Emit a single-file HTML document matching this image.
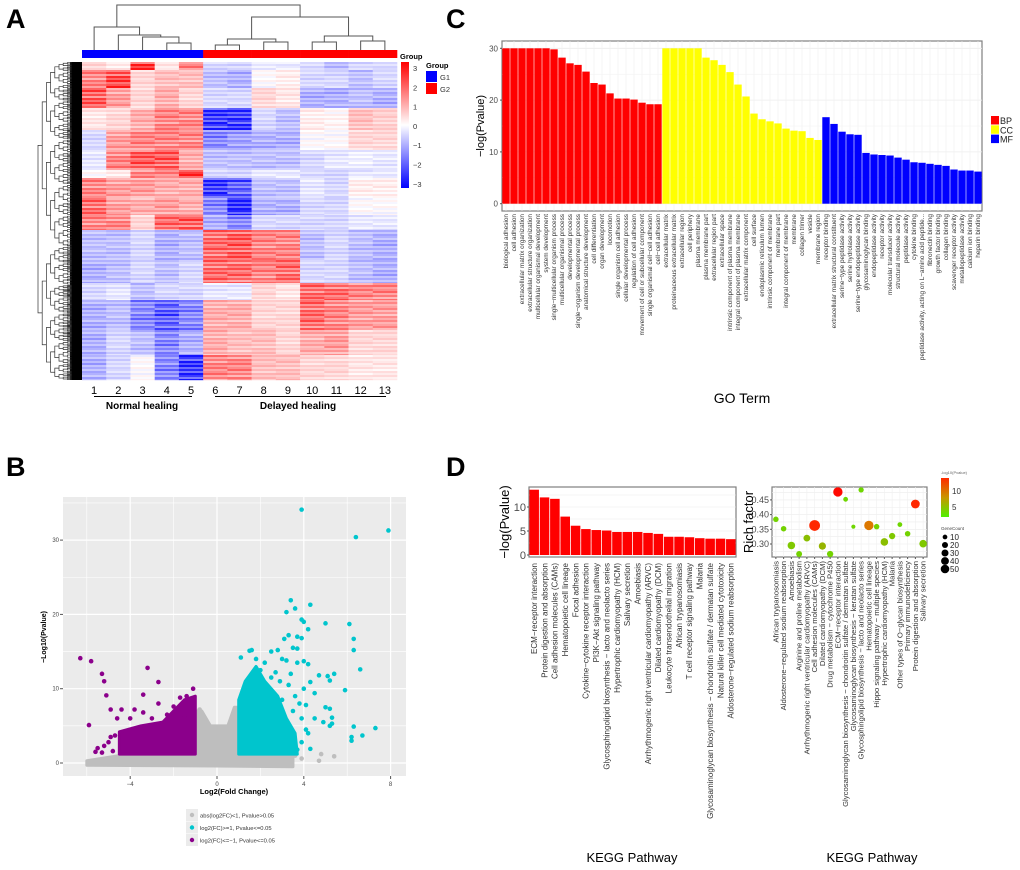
<!DOCTYPE html>
<html><head><meta charset="utf-8"><style>
body{margin:0;background:#fff}
svg{display:block;font-family:"Liberation Sans",sans-serif}
</style></head><body>
<svg id="fig" width="1020" height="870" viewBox="0 0 1020 870">
<g id="pa"></g>
<g id="pb"></g>
<g id="pc"></g>
<g id="pd1"></g>
<g id="pd2"></g>
<text x="6" y="28" font-size="27" font-weight="bold">A</text>
<text x="446" y="28" font-size="27" font-weight="bold">C</text>
<text x="6" y="476" font-size="27" font-weight="bold">B</text>
<text x="446" y="476" font-size="27" font-weight="bold">D</text>
</svg>
<script>
const NS='http://www.w3.org/2000/svg';
function mk(p,t,a,txt){const e=document.createElementNS(NS,t);for(const k in a)e.setAttribute(k,a[k]);if(txt!==undefined)e.textContent=txt;p.appendChild(e);return e;}

// ===== Panel A data =====
const heatBlockEdges=[62,70,88,108,130,150,170,178,198,215,230,260,283,300,330,355,380];
const heatValues=[
[0.5,0.3,2.5,0.3,1.5,-0.5,-0.5,-0.3,-0.3,-0.5,-0.8,-0.5,-0.5],
[1.5,2.2,0.5,0.8,0.8,-0.8,-1,0,0.2,-0.5,-0.5,-0.8,-0.5],
[2,1.2,0.5,1,0.5,-0.5,-0.5,0.5,0.3,-1,-1,-0.8,-1],
[0.3,0.5,1,1.5,1.5,-2.5,-2.5,-0.5,-0.8,0.2,0.1,0.8,0.6],
[-0.5,1.2,1.5,1.5,1.5,-1.5,-1.2,-1,-1,0,0,0.5,0.5],
[-0.3,1.5,2,2,1,-0.8,-0.8,-0.8,-0.8,-0.5,-0.3,-0.2,-0.3],
[0,0.3,1.5,1.5,2.5,-0.5,-0.5,-0.3,-0.3,-0.5,-0.5,-0.3,-0.3],
[1.5,1.2,1.2,1,1,-2.5,-2,-0.8,-0.8,-0.3,-0.5,0.2,0.2],
[1.8,1.2,1,1.2,1,-1.5,-2.8,-1,-1,-0.5,-0.5,0,0],
[1.5,1.5,0.5,1.8,2,-1,-1.5,-0.5,-0.5,-0.5,-0.5,-0.3,-0.3],
[-0.8,-0.8,-0.5,-1,-0.8,1.8,2,1.5,1.5,-0.8,-0.5,-0.8,-1],
[-1,-0.8,-0.5,-0.8,-0.5,1.8,1.8,1.5,1.8,-0.5,-0.5,-0.8,-1],
[-0.5,-0.3,-0.8,-0.5,-0.5,-0.3,-0.3,0.5,0.3,1.8,1.8,1.5,1.5],
[-1,-0.8,-1.5,-2,-1.5,1,1,0.5,0.5,1.8,1.5,1.2,1.2],
[-1,-0.5,-0.8,-1.5,-1,1,0.8,0.8,0.5,1,1.2,0.5,0.5],
[-1,-0.5,0,-1.5,-2.5,1.5,1.5,0.8,0.8,0.5,0.5,0.3,0.3]];
const stripePattern=[0,0.35,-0.25,0.15,-0.4,0.25,-0.1,0.3,-0.2];
const sampleLabels=['1','2','3','4','5','6','7','8','9','10','11','12','13'];
const sampleGroups=[1,1,1,1,1,2,2,2,2,2,2,2,2];

(function(){
const g=document.getElementById('pa');
const X0=82,X1=397,cw=(X1-X0)/13;
const cx=i=>X0+cw*(i+0.5);
function hcol(v){v=Math.max(-3,Math.min(3,v));const t=Math.abs(v)/3;const a=Math.round(255*(1-t*0.92));return v>=0?`rgb(255,${a},${a})`:`rgb(${a},${a},255)`;}
for(let b=0;b<heatValues.length;b++){
 const y0=heatBlockEdges[b],y1=heatBlockEdges[b+1];
 let k=0;
 for(let y=y0;y<y1;y+=2,k++){
  for(let c=0;c<13;c++){
   const v=heatValues[b][c]+stripePattern[(k+c*2)%stripePattern.length]*Math.max(0.6,Math.abs(heatValues[b][c]));
   const r=mk(g,'rect',{x:X0+cw*c,y:y,width:cw+0.3,height:Math.min(2,y1-y)+0.2,fill:hcol(v)});
   
   
  }
 }
}
for(let c=0;c<13;c++){
 const r=mk(g,'rect',{x:X0+cw*c,y:50,width:cw+0.3,height:8,fill:sampleGroups[c]==1?'#0000ff':'#ff0000'});
 
 
}
const tree=[5,[27,0,[35,1,[37,2,[43,3,4]]]],[17,[39,[45,5,6],[42,7,8]],[36,[42,9,10],[41,11,12]]]];
function dn(n){ if(typeof n==='number') return {x:cx(n),h:50};
 const a=dn(n[1]),b=dn(n[2]);
 mk(g,'path',{d:`M${a.x},${a.h}V${n[0]}H${b.x}V${b.h}`,stroke:'#555',fill:'none','stroke-width':1});
 return {x:(a.x+b.x)/2,h:n[0]};}
dn(tree);
mk(g,'rect',{x:70,y:62,width:12,height:318,fill:'#000',});
function rd(y0,y1,d){ if(d>7) return (y0+y1)/2;
 const m=y0+(y1-y0)*(0.42+0.16*((d*7+Math.round(y0))%3)/2);
 const a=rd(y0,m,d+1),b=rd(m,y1,d+1);const x=38+d*4.2;
 mk(g,'path',{d:`M${x+4.2},${a}H${x}V${b}H${x+4.2}`,stroke:'#333',fill:'none','stroke-width':0.7});
 return (a+b)/2;}
rd(62,380,0);
sampleLabels.forEach((s,i)=>{const t=mk(g,'text',{x:cx(i),y:394,'font-size':11,'text-anchor':'middle'},s);});
mk(g,'line',{x1:94,x2:192,y1:396.5,y2:396.5,stroke:'#000'});
mk(g,'line',{x1:215,x2:386,y1:396.5,y2:396.5,stroke:'#000'});
mk(g,'text',{x:142,y:409,'font-size':10,'font-weight':'bold','text-anchor':'middle',},'Normal healing');
mk(g,'text',{x:298,y:409,'font-size':10,'font-weight':'bold','text-anchor':'middle',},'Delayed healing');
const gr=mk(g,'linearGradient',{id:'hg',x1:0,y1:0,x2:0,y2:1});
mk(gr,'stop',{offset:'0','stop-color':'#ff0000'});mk(gr,'stop',{offset:'0.5','stop-color':'#ffffff'});mk(gr,'stop',{offset:'1','stop-color':'#0000ff'});
mk(g,'rect',{x:401,y:62,width:8,height:126,fill:'url(#hg)',});
[3,2,1,0,-1,-2,-3].forEach((v,i)=>mk(g,'text',{x:413,y:71+i*19.3,'font-size':7.5,fill:'#333'},v<0?'−'+(-v):String(v)));
mk(g,'text',{x:400,y:59,'font-size':7.5,'font-weight':'bold'},'Group');
mk(g,'text',{x:426,y:68,'font-size':7.5,'font-weight':'bold'},'Group');
mk(g,'rect',{x:426,y:71,width:11,height:11,fill:'#0000ff',});
mk(g,'rect',{x:426,y:83,width:11,height:11,fill:'#ff0000',});
mk(g,'text',{x:440,y:80,'font-size':7.5,fill:'#333'},'G1');
mk(g,'text',{x:440,y:92,'font-size':7.5,fill:'#333'},'G2');
})();

// ===== Panel B data =====
const volcXTicks=[-4,0,4,8];
const volcYTicks=[0,10,20,30];
const grayHull=[[-6,-0.3],[-6,0.3],[-4.5,1],[-1,1.5],[-1,7],[-0.7,7],[-0.3,5],[0.1,5],[0.5,5],[0.8,7.5],[1,7.5],[1,1.5],[3.5,1],[3.5,-0.5],[0,-0.4]];
const grayPts=[[4.7,0.3],[4.8,1.2],[5.4,0.9],[3.9,0.6],[3.6,1],[3.2,0.9],[-0.4,4.5],[0.1,2.6],[-0.8,7.2],[-5.8,0.1]];
const purpleHull=[[-4.5,1.2],[-4.5,4.2],[-3.5,5],[-2.5,5.5],[-1.5,8.5],[-1,9],[-1,1.2]];
const purplePts=[[-6.3,14.1],[-5.8,13.7],[-5.3,12],[-5.2,11],[-5.1,9.1],[-4.9,7.2],[-4.4,7.2],[-4.6,6],[-5.9,5.1],[-5.6,1.5],[-5.2,2.3],[-4.9,3.5],[-3.2,12.8],[-2.7,10.9],[-3.4,9.2],[-3.8,7.2],[-3.4,6.8],[-2.7,8],[-2,7.6],[-1.7,8.8],[-1.4,9],[-1.1,10],[-1.2,7.5],[-3,6],[-4,6],[-2.3,6.5],[-5.5,2],[-5,2.8],[-4.7,3.7],[-1.5,6.2],[-4.8,1.6],[-5.3,1.4]];
const cyanHull=[[1,1.2],[1,8.5],[1.3,11],[1.8,13],[2.2,11],[2.8,9],[3.2,6],[3.6,4],[3.7,1.2]];
const cyanPts=[[3.9,34.1],[6.4,30.4],[7.9,31.3],[3.4,21.9],[4.3,21.3],[3.6,20.8],[3.2,20.3],[3.9,19.3],[4.0,19],[5,18.8],[6.1,18.7],[4.2,18],[3.3,17.2],[3.1,16.7],[3.9,16.8],[3.7,17],[6.3,16.7],[6.3,15.2],[1.1,14.2],[1.5,15.1],[1.6,15.2],[2.5,15],[2.8,15.2],[3.5,15.5],[3.7,15.4],[3,14],[3.2,13.8],[3.7,13.5],[4,13.7],[4.2,13.3],[6.6,12.6],[5.4,12],[5.1,11.7],[4.7,11.8],[5.2,11.1],[4.3,10.9],[5.9,9.8],[4,10],[4.5,9.4],[5,7.5],[5.2,7.3],[5.3,6.1],[4.5,6],[4.9,5.5],[5.3,5.3],[5.2,5],[6.3,4.9],[7.3,4.7],[6.2,3.5],[6.2,3],[6.7,3.7],[4.3,1.9],[3.7,1.8],[3.9,2.8],[4.2,4],[4.1,4.5],[3.5,7],[3.8,8],[3.9,6],[4.1,7.8],[2.5,11.5],[2,12.5],[2.9,11],[3.6,9],[3.3,10.5],[3,8.5],[2.2,13.5],[1.8,14],[2.7,12.2],[3.4,12]];

(function(){
const g=document.getElementById('pb');
const OY=460;
const L=63,R=406,T=37+OY,B=316+OY;
const xs=v=>217+v*21.7, ys=v=>303+OY-v*7.43;
mk(g,'rect',{x:L,y:T,width:R-L,height:B-T,fill:'#ebebeb',});
for(let v=-6;v<=8;v+=2){mk(g,'line',{x1:xs(v),x2:xs(v),y1:T,y2:B,stroke:'#fff','stroke-width':v%4==0?1.2:0.6});}
for(let v=-5;v<=35;v+=5){mk(g,'line',{y1:ys(v),y2:ys(v),x1:L,x2:R,stroke:'#fff','stroke-width':v%10==0?1.2:0.6});}
volcXTicks.forEach(v=>{mk(g,'line',{x1:xs(v),x2:xs(v),y1:B,y2:B+3,stroke:'#555'});const t=mk(g,'text',{x:xs(v),y:B+10,'font-size':6,'text-anchor':'middle',fill:'#444'},v<0?'−'+(-v):String(v));});
volcYTicks.forEach(v=>{mk(g,'line',{x1:L-3,x2:L,y1:ys(v),y2:ys(v),stroke:'#555'});const t=mk(g,'text',{x:L-4,y:ys(v)+2,'font-size':6,'text-anchor':'end',fill:'#444'},String(v));});
function hull(h,c,n){const p=mk(g,'path',{d:'M'+h.map(q=>xs(q[0])+','+ys(q[1])).join('L')+'Z',fill:c,stroke:c,'stroke-width':3,'stroke-linejoin':'round'});}
function pts(a,c,n){a.forEach(q=>{const e=mk(g,'circle',{cx:xs(q[0]),cy:ys(q[1]),r:2.3,fill:c});});}
hull(grayHull,'#bebebe','gray-point-cloud');pts(grayPts,'#bebebe','gray-point');
hull(purpleHull,'#8b008b','purple-point-cloud');pts(purplePts,'#8b008b','purple-point');
hull(cyanHull,'#00c5cd','cyan-point-cloud');pts(cyanPts,'#00c5cd','cyan-point');
mk(g,'text',{x:234,y:334+OY,'font-size':7.5,'font-weight':'bold','text-anchor':'middle',},'Log2(Fold Change)');
mk(g,'text',{x:0,y:0,'font-size':7,'font-weight':'bold','text-anchor':'middle',transform:`translate(46,${177+OY}) rotate(-90)`,},'−Log10(Pvalue)');
const lg=[['#bebebe','abs(log2FC)<1, Pvalue>0.05'],['#00c5cd','log2(FC)>=1, Pvalue<=0.05'],['#8b008b','log2(FC)<=−1, Pvalue<=0.05']];
lg.forEach((e,i)=>{mk(g,'rect',{x:186,y:349+OY+i*12.5,width:12,height:12,fill:'#ebebeb'});const c=mk(g,'circle',{cx:192,cy:355+OY+i*12.5,r:2.2,fill:e[0]});mk(g,'text',{x:200,y:357.5+OY+i*12.5,'font-size':5.8,fill:'#333'},e[1]);});
})();

// ===== Panel C data =====
const goTerms=['biological adhesion','cell adhesion','extracellular matrix organization','extracellular structure organization','multicellular organismal development','system development','single−multicellular organism process','multicellular organismal process','developmental process','single−organism developmental process','anatomical structure development','cell differentiation','organ development','locomotion','single organism cell adhesion','cellular developmental process','regulation of cell adhesion','movement of cell or subcellular component','single organismal cell−cell adhesion','cell−cell adhesion',
'extracellular matrix','proteinaceous extracellular matrix','extracellular region','cell periphery','plasma membrane','plasma membrane part','extracellular region part','extracellular space','intrinsic component of plasma membrane','integral component of plasma membrane','extracellular matrix component','cell surface','endoplasmic reticulum lumen','intrinsic component of membrane','membrane part','integral component of membrane','membrane','collagen trimer','vesicle','membrane region',
'receptor binding','extracellular matrix structural constituent','serine−type peptidase activity','serine hydrolase activity','serine−type endopeptidase activity','glycosaminoglycan binding','endopeptidase activity','receptor activity','molecular transducer activity','structural molecule activity','peptidase activity','cytokine binding','peptidase activity, acting on L−amino acid peptide...','fibronectin binding','growth factor binding','collagen binding','scavenger receptor activity','metallopeptidase activity','calcium ion binding','heparin binding'];
const goValues=[30,30,30,30,30,30,29.8,28.2,27.1,26.8,25.5,23.3,23.0,21.3,20.3,20.3,20.1,19.5,19.2,19.2,
30,30,30,30,30,28.2,27.7,26.8,25.4,23.0,20.7,17.4,16.3,15.9,15.5,14.5,14.1,14.0,12.7,12.3,
16.7,15.4,13.9,13.4,13.3,9.8,9.5,9.4,9.3,8.9,8.5,8.0,7.9,7.7,7.5,7.3,6.6,6.4,6.4,6.2];
const goCategory=[].concat(Array(20).fill('BP'),Array(20).fill('CC'),Array(20).fill('MF'));
const goYTicks=[0,10,20,30];
(function(){
const g=document.getElementById('pc');
const L=502,R=982,T=41,B=211;const bw=(R-L)/goValues.length;
const ys=v=>203.7-v*5.18;const col={BP:'#ff0000',CC:'#ffff00',MF:'#0000ff'};
mk(g,'rect',{x:L,y:T,width:R-L,height:B-T,fill:'#fff',stroke:'#7f7f7f','stroke-width':1.2,});
for(let v=0;v<=30;v+=5)mk(g,'line',{x1:L,x2:R,y1:ys(v),y2:ys(v),stroke:'#ececec','stroke-width':v%10?0.4:0.8});
goValues.forEach((v,i)=>{const x=L+bw*i;mk(g,'line',{x1:x+bw/2,x2:x+bw/2,y1:T,y2:B,stroke:'#f0f0f0','stroke-width':0.6});});
goValues.forEach((v,i)=>{const x=L+bw*i;
 const r=mk(g,'rect',{x:x+0.3,y:ys(v),width:bw-0.6,height:ys(0)-ys(v),fill:col[goCategory[i]]});
 
 const t=mk(g,'text',{x:x+bw/2+2.2,y:214,'font-size':6.4,'text-anchor':'end',fill:'#333',transform:`rotate(-90 ${x+bw/2+2.2} 214)`},goTerms[i]);
 });
goYTicks.forEach(v=>{mk(g,'line',{x1:L-2,x2:L,y1:ys(v),y2:ys(v),stroke:'#555'});const t=mk(g,'text',{x:L-4,y:ys(v)+3,'font-size':8,'text-anchor':'end',fill:'#4d4d4d'},String(v));});
mk(g,'text',{x:0,y:0,'font-size':11,'text-anchor':'middle',transform:'translate(484,126) rotate(-90)',},'−log(Pvalue)');
mk(g,'text',{x:742,y:403,'font-size':14,'text-anchor':'middle',},'GO Term');
['BP','CC','MF'].forEach((k,i)=>{mk(g,'rect',{x:991,y:116+i*9.3,width:8,height:8.5,fill:col[k],});mk(g,'text',{x:1000,y:124+i*9.3,'font-size':9,fill:'#222'},k);});
})();

// ===== Panel D bar data =====
const keggBarNames=['ECM−receptor interaction','Protein digestion and absorption','Cell adhesion molecules (CAMs)','Hematopoietic cell lineage','Focal adhesion','Cytokine−cytokine receptor interaction','PI3K−Akt signaling pathway','Glycosphingolipid biosynthesis − lacto and neolacto series','Hypertrophic cardiomyopathy (HCM)','Salivary secretion','Amoebiasis','Arrhythmogenic right ventricular cardiomyopathy (ARVC)','Dilated cardiomyopathy (DCM)','Leukocyte transendothelial migration','African trypanosomiasis','T cell receptor signaling pathway','Malaria','Glycosaminoglycan biosynthesis − chondroitin sulfate / dermatan sulfate','Natural killer cell mediated cytotoxicity','Aldosterone−regulated sodium reabsorption'];
const keggBarValues=[13.6,12.0,11.7,8.0,6.1,5.4,5.2,5.1,4.8,4.8,4.8,4.6,4.4,3.8,3.8,3.7,3.5,3.4,3.4,3.3];
const keggBarTicks=[0,5,10];
(function(){
const g=document.getElementById('pd1');
const L=529,R=736,T=487,B=557;const bw=(R-L)/keggBarValues.length;const ys=v=>555-v*4.8;
mk(g,'rect',{x:L,y:T,width:R-L,height:B-T,fill:'#fff',stroke:'#7f7f7f','stroke-width':1.2,});
for(let v=0;v<=12.5;v+=2.5)mk(g,'line',{x1:L,x2:R,y1:ys(v),y2:ys(v),stroke:'#ececec','stroke-width':0.6});
keggBarValues.forEach((v,i)=>{const x=L+bw*i;
 const r=mk(g,'rect',{x:x+0.4,y:ys(v),width:bw-0.8,height:ys(0)-ys(v),fill:'#ff0000'});
 
 const t=mk(g,'text',{x:x+bw/2+2.8,y:563,'font-size':8,'text-anchor':'end',fill:'#333',transform:`rotate(-90 ${x+bw/2+2.8} 563)`},keggBarNames[i]);
 });
keggBarTicks.forEach(v=>{mk(g,'line',{x1:L-2,x2:L,y1:ys(v),y2:ys(v),stroke:'#555'});const t=mk(g,'text',{x:L-3,y:ys(v)+4,'font-size':11,'text-anchor':'end',fill:'#4d4d4d'},String(v));});
mk(g,'text',{x:0,y:0,'font-size':13,'text-anchor':'middle',transform:'translate(509,522) rotate(-90)',},'−log(Pvalue)');
mk(g,'text',{x:632,y:862,'font-size':13,'text-anchor':'middle',},'KEGG Pathway');
})();

// ===== Panel D dot data =====
const keggDotNames=['African trypanosomiasis','Aldosterone−regulated sodium reabsorption','Amoebiasis','Arginine and proline metabolism','Arrhythmogenic right ventricular cardiomyopathy (ARVC)','Cell adhesion molecules (CAMs)','Dilated cardiomyopathy (DCM)','Drug metabolism − cytochrome P450','ECM−receptor interaction','Glycosaminoglycan biosynthesis − chondroitin sulfate / dermatan sulfate','Glycosaminoglycan biosynthesis − keratan sulfate','Glycosphingolipid biosynthesis − lacto and neolacto series','Hematopoietic cell lineage','Hippo signaling pathway − multiple species','Hypertrophic cardiomyopathy (HCM)','Malaria','Other types of O−glycan biosynthesis','Primary immunodeficiency','Protein digestion and absorption','Salivary secretion'];
const keggRichFactor=[0.384,0.352,0.295,0.266,0.320,0.363,0.293,0.266,0.477,0.452,0.359,0.484,0.363,0.359,0.307,0.327,0.366,0.335,0.436,0.301];
const keggGeneCount=[8,8,20,10,15,50,18,12,35,5,3,7,35,8,20,12,5,8,30,20];
const keggNegLogP=[3.5,3.5,4,3.5,4.5,12,5,3.5,13.6,3.3,3.3,3.3,8,3.5,4.5,4,3.3,3.5,12,4];
const dotYTicks=[0.30,0.35,0.40,0.45];
const sizeLegend=[10,20,30,40,50];
(function(){
const g=document.getElementById('pd2');
const L=772,R=927,T=487,B=557;const sp=(R-L)/keggDotNames.length;
const ys=v=>544-(v-0.30)*294;const rs=n=>1+Math.sqrt(n)*0.62;
function cc(v){const t=Math.max(0,Math.min(1,(v-2)/12));return `rgb(${Math.round(80+175*Math.min(1,t*1.6))},${Math.round(240*(1-t))},0)`;}
mk(g,'rect',{x:L,y:T,width:R-L,height:B-T,fill:'#fff',stroke:'#7f7f7f','stroke-width':1.2,});
for(let v=0.275;v<=0.48;v+=0.025)mk(g,'line',{x1:L,x2:R,y1:ys(v),y2:ys(v),stroke:'#ececec','stroke-width':0.6});
keggDotNames.forEach((n,i)=>{const x=L+sp*(i+0.5);
 mk(g,'line',{x1:x,x2:x,y1:T,y2:B,stroke:'#f0f0f0','stroke-width':0.6});
 mk(g,'line',{x1:x,x2:x,y1:B,y2:B+2,stroke:'#555'});
 const t=mk(g,'text',{x:x+2.6,y:561,'font-size':7.7,'text-anchor':'end',fill:'#333',transform:`rotate(-90 ${x+2.6} 561)`},n);
 });
keggDotNames.forEach((n,i)=>{const c=mk(g,'circle',{cx:L+sp*(i+0.5),cy:ys(keggRichFactor[i]),r:rs(keggGeneCount[i]),fill:cc(keggNegLogP[i])});
 });
dotYTicks.forEach(v=>{mk(g,'line',{x1:L-2,x2:L,y1:ys(v),y2:ys(v),stroke:'#555'});const t=mk(g,'text',{x:L-3,y:ys(v)+3,'font-size':9,'text-anchor':'end',fill:'#4d4d4d'},v.toFixed(2));});
mk(g,'text',{x:0,y:0,'font-size':13,'text-anchor':'middle',transform:'translate(753,522) rotate(-90)',},'Rich factor');
mk(g,'text',{x:872,y:862,'font-size':13,'text-anchor':'middle',},'KEGG Pathway');
const gr=mk(g,'linearGradient',{id:'dg',x1:0,y1:0,x2:0,y2:1});
mk(gr,'stop',{offset:'0','stop-color':'#ff2a00'});mk(gr,'stop',{offset:'0.5','stop-color':'#c89600'});mk(gr,'stop',{offset:'1','stop-color':'#50f000'});
mk(g,'text',{x:941,y:474,'font-size':4,fill:'#666'},'-log10(Pvalue)');
mk(g,'rect',{x:941,y:478,width:8,height:39,fill:'url(#dg)',});
mk(g,'text',{x:952,y:494,'font-size':8,fill:'#333'},'10');
mk(g,'text',{x:952,y:510,'font-size':8,fill:'#333'},'5');
mk(g,'text',{x:941,y:530,'font-size':4.5,fill:'#444'},'GeneCount');
sizeLegend.forEach((n,i)=>{const c=mk(g,'circle',{cx:945,cy:537+i*8,r:rs(n)*0.8,fill:'#000'});mk(g,'text',{x:950,y:540+i*8,'font-size':8,fill:'#222'},String(n));});
})();
</script>
</body></html>
